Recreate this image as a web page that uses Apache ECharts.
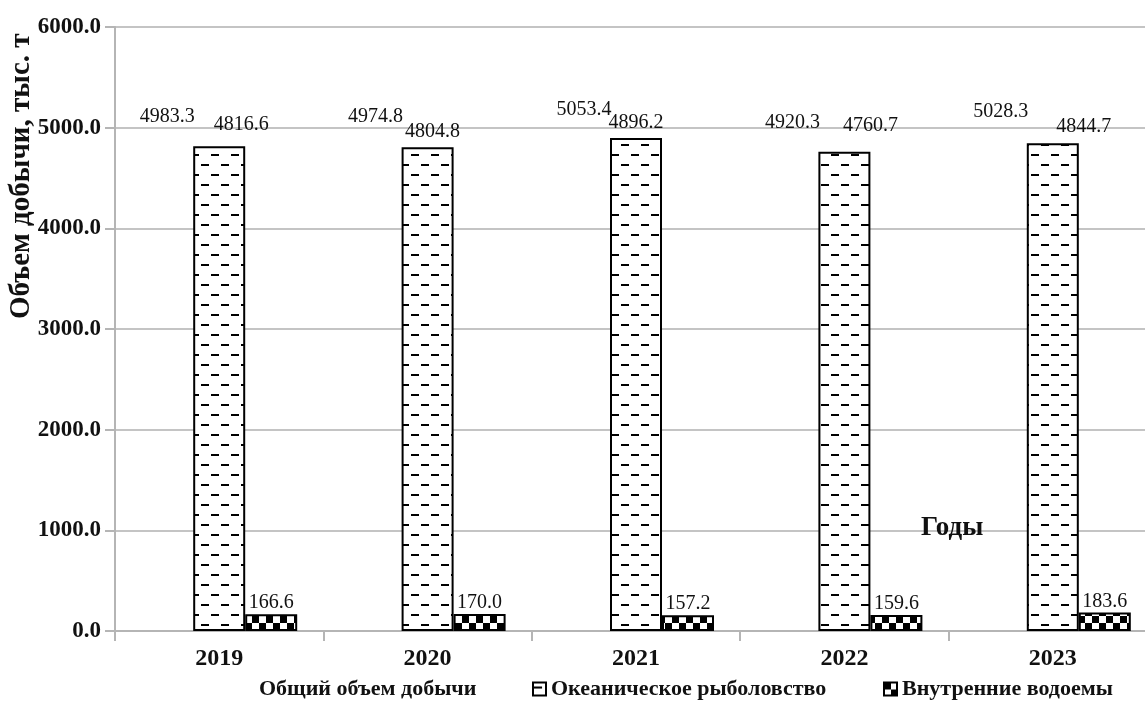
<!DOCTYPE html>
<html>
<head>
<meta charset="utf-8">
<script src="https://cdn.jsdelivr.net/npm/echarts@6/dist/echarts.min.js"></script>
<style>
  html, body { margin: 0; padding: 0; background: #fff; overflow: hidden; }
  /* the plot runs a little past the right edge of the window */
  #chart { width: 1157px; height: 703px; }
</style>
</head>
<body>
<div id="chart"></div>
<script>
// Годы и объёмы добычи, тыс. т
const years = ['2019', '2020', '2021', '2022', '2023'];
const totalCatch = [4983.3, 4974.8, 5053.4, 4920.3, 5028.3];
const oceanFishing = [4816.6, 4804.8, 4896.2, 4760.7, 4844.7];
const inlandWaters = [166.6, 170.0, 157.2, 159.6, 183.6];
const yTicks = [0, 1000, 2000, 3000, 4000, 5000, 6000];

// Manual nudges of the ocean-fishing labels (pixels)
const oceanLabelShift = [[22, -6], [5, -1], [0, 0], [26, -11], [31, -2]];

const FONT = '"Liberation Serif", "DejaVu Serif", serif';

// Hatch fill: staggered short dashes
function dashPattern() {
  const c = document.createElement('canvas');
  c.width = 20; c.height = 20;
  const g = c.getContext('2d');
  g.fillStyle = '#fff';
  g.fillRect(0, 0, 20, 20);
  g.fillStyle = '#000';
  g.fillRect(1, 4, 8, 2);
  g.fillRect(11, 14, 8, 2);
  return c;
}
// Checkerboard fill
function checkerPattern() {
  const c = document.createElement('canvas');
  c.width = 14; c.height = 14;
  const g = c.getContext('2d');
  g.fillStyle = '#fff';
  g.fillRect(0, 0, 14, 14);
  g.fillStyle = '#000';
  g.fillRect(0, 0, 7, 7);
  g.fillRect(7, 7, 7, 7);
  return c;
}

const chart = echarts.init(document.getElementById('chart'), null, { renderer: 'canvas' });

const labelBase = {
  show: true,
  position: 'top',
  fontFamily: FONT,
  fontSize: 20,
  color: '#111',
  formatter: p => p.value.toFixed(1)
};

const legendText = { fontFamily: FONT, fontSize: 22, fontWeight: 'bold', color: '#111' };

const option = {
  backgroundColor: '#fff',
  animation: false,
  grid: { left: 115, top: 27, right: 0, bottom: 72, containLabel: false },
  legend: [
    {
      data: ['Общий объем добычи'], left: 236, top: 673, icon: 'rect',
      itemWidth: 13, itemHeight: 13, itemGap: 4, textStyle: legendText
    },
    {
      data: ['Океаническое рыболовство'], left: 527, top: 673, icon: 'rect',
      itemWidth: 13, itemHeight: 13, itemGap: 4, textStyle: legendText
    },
    {
      data: ['Внутренние водоемы'], left: 878, top: 673, icon: 'rect',
      itemWidth: 13, itemHeight: 13, itemGap: 4, textStyle: legendText
    }
  ],
  xAxis: {
    type: 'category',
    data: years,
    axisLine: { show: true, lineStyle: { color: '#b5b5b5', width: 2 } },
    axisTick: { show: true, length: 10, alignWithLabel: false, lineStyle: { color: '#b5b5b5', width: 2 } },
    axisLabel: { fontFamily: FONT, fontSize: 24, fontWeight: 'bold', color: '#111', margin: 16 },
    splitLine: { show: false }
  },
  yAxis: {
    type: 'value',
    min: yTicks[0],
    max: yTicks[yTicks.length - 1],
    interval: yTicks[1] - yTicks[0],
    axisLine: { show: true, lineStyle: { color: '#b5b5b5', width: 2 } },
    axisTick: { show: true, length: 10, lineStyle: { color: '#b5b5b5', width: 2 } },
    axisLabel: {
      fontFamily: FONT, fontSize: 23, fontWeight: 'bold', color: '#111', margin: 14,
      formatter: v => v.toFixed(1)
    },
    splitLine: { show: true, lineStyle: { color: '#c4c4c4', width: 2 } }
  },
  series: [
    {
      name: 'Общий объем добычи',
      type: 'bar',
      barWidth: 52,
      barGap: '0%',
      data: totalCatch,
      itemStyle: { color: 'rgba(255,255,255,0)', borderWidth: 0 },
      label: Object.assign({}, labelBase, { distance: 3 })
    },
    {
      name: 'Океаническое рыболовство',
      type: 'bar',
      barWidth: 52,
      barGap: '0%',
      data: oceanFishing.map((v, i) => ({
        value: v,
        label: { offset: oceanLabelShift[i] }
      })),
      itemStyle: {
        color: { image: dashPattern(), repeat: 'repeat' },
        borderColor: '#000',
        borderWidth: 2
      },
      label: Object.assign({}, labelBase, { distance: 5 })
    },
    {
      name: 'Внутренние водоемы',
      type: 'bar',
      barWidth: 52,
      barGap: '0%',
      data: inlandWaters,
      itemStyle: {
        color: { image: checkerPattern(), repeat: 'repeat' },
        borderColor: '#000',
        borderWidth: 2
      },
      label: Object.assign({}, labelBase, { distance: 1 })
    }
  ],
  graphic: [
    {
      type: 'text',
      left: 921, top: 515, z: 100,
      style: { text: 'Годы', font: 'bold 27px ' + FONT, fill: '#111' }
    },
    {
      type: 'text',
      x: 7, y: 319, z: 100,
      rotation: Math.PI / 2,
      style: { text: 'Объем добычи, тыс. т', font: 'bold 29px ' + FONT, fill: '#111', align: 'left', verticalAlign: 'top' }
    }
  ]
};

chart.setOption(option);
</script>
</body>
</html>
